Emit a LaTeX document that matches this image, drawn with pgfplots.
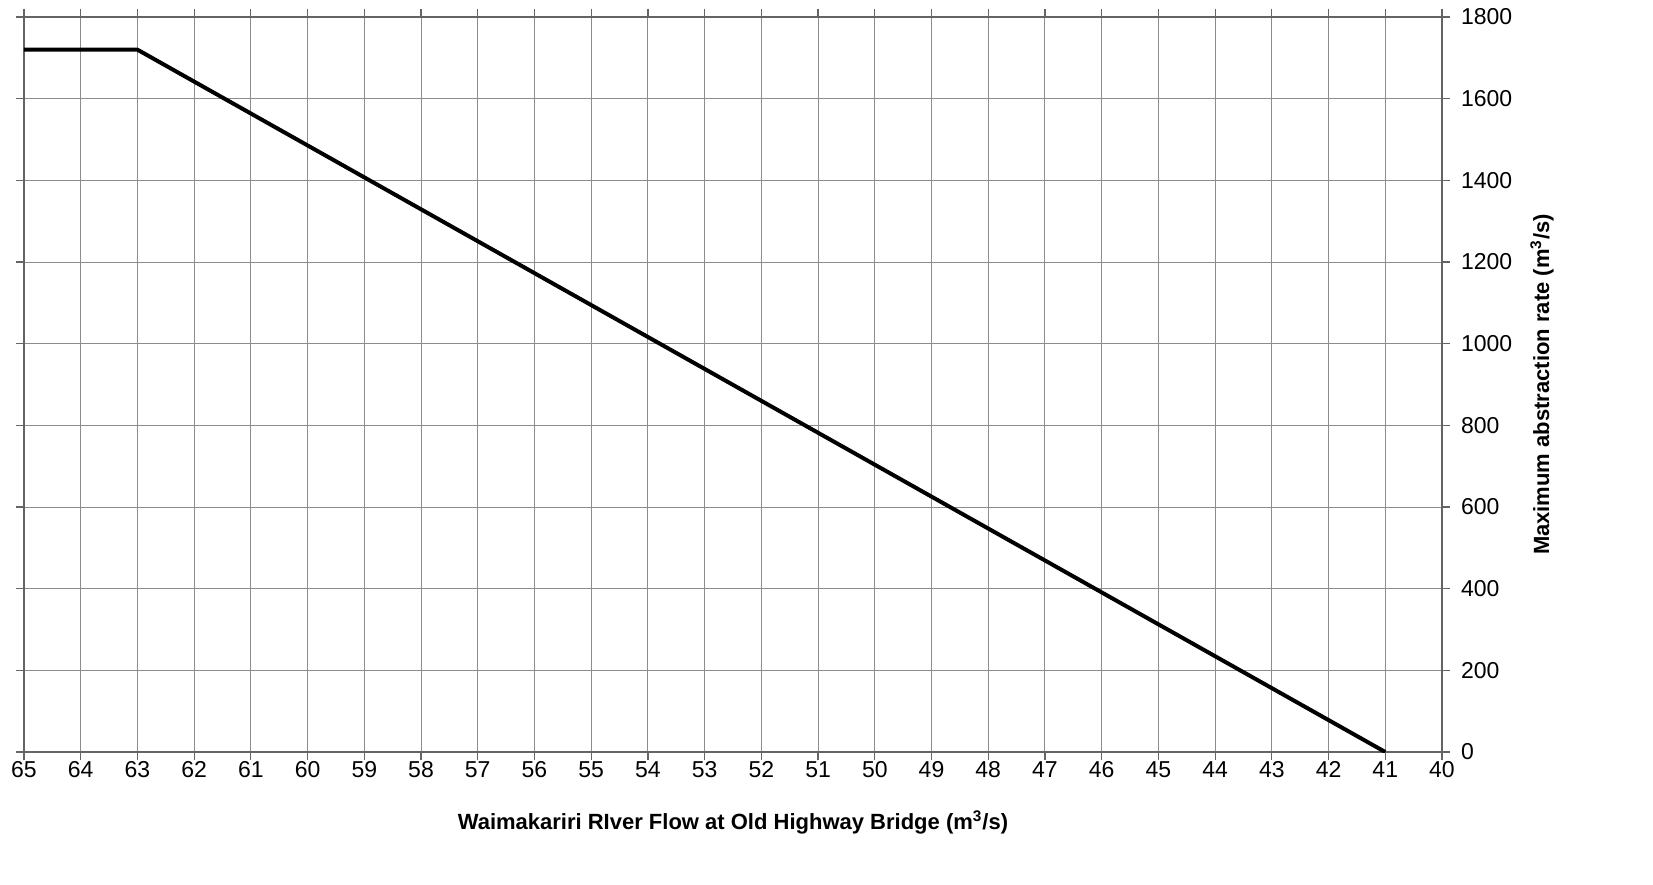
\documentclass[border=0pt]{standalone}
\usepackage{pgfplots}
\pgfplotsset{compat=1.18}
\usepackage{fontspec}
\setmainfont{Liberation Sans}
\definecolor{gridgray}{RGB}{140,140,140}
\definecolor{axisgray}{RGB}{100,100,100}
\begin{document}
\begin{tikzpicture}
\begin{axis}[
    scale only axis,
    width=709pt, height=367.5pt,
    x dir=reverse,
    xmin=40, xmax=65,
    ymin=0, ymax=1800,
    xtick={40,41,...,65},
    ytick={0,200,...,1800},
    yticklabel pos=right,
    tick align=outside,
    major tick length=4pt,
    tick style={axisgray, line width=0.6pt},
    grid=major,
    grid style={gridgray, line width=0.5pt},
    axis line style={axisgray, line width=1.1pt},
    /pgf/number format/assume math mode=true,
    /pgf/number format/1000 sep={},
    ticklabel style={font=\fontsize{11.5}{13}\selectfont},
    xticklabel style={anchor=base, yshift=-8.5pt, text height=8pt, text depth=0pt},
    yticklabel style={xshift=2pt},
    xlabel={\textbf{Waimakariri RIver Flow at Old Highway Bridge (m\textsuperscript{3}/s)}},
    ylabel={\textbf{Maximum abstraction rate (m\textsuperscript{3}/s)}},
    xlabel style={at={(axis description cs:0.5,0)}, anchor=center, yshift=-35pt, font=\fontsize{11}{13}\selectfont},
    ylabel style={at={(axis description cs:1,0.5)}, anchor=center, yshift=-50pt, font=\fontsize{11}{13}\selectfont},
]
\addplot[black, line width=2pt, line join=round] coordinates {
    (65,1720) (63,1720) (41,0)
};
\end{axis}
\pgfresetboundingbox
\useasboundingbox (-12pt,-66pt) rectangle (814.5pt,376pt);
\end{tikzpicture}
\end{document}
